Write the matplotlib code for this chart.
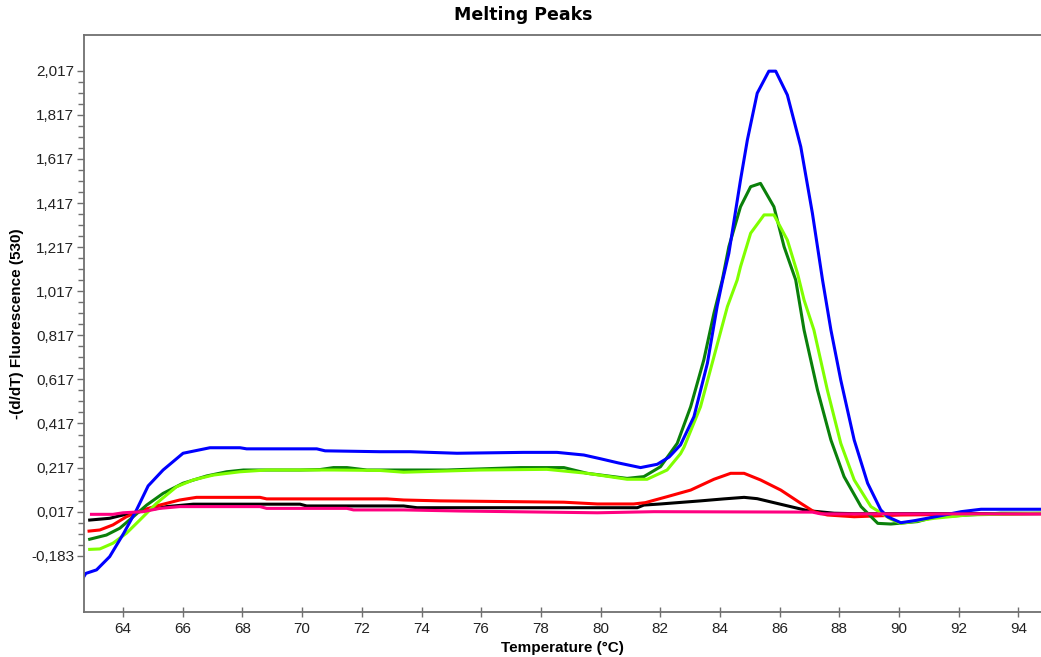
#
# plot.py
# melting peak curves, -(d/dT) fluorescence vs temperature
#
import numpy as np
import matplotlib
matplotlib.use("Agg")
import matplotlib.pyplot as plt
from matplotlib.ticker import FixedLocator, FuncFormatter

# sample curves (temperature in C, -(d/dT) value)
blue_t = [62.68, 62.75, 63.11, 63.55, 64.02, 64.45, 64.84, 65.34, 66.01, 66.91, 67.92, 68.14,
          70.49, 70.77, 72.6, 73.62, 75.19, 77.42, 78.54, 79.44, 80.0, 80.6, 81.34, 81.9,
          82.3, 82.68, 83.13, 83.58, 83.91, 84.08, 84.3, 84.69, 84.92, 85.25, 85.64, 85.87,
          86.26, 86.71, 87.10, 87.44, 87.72, 88.05, 88.5, 88.95, 89.39, 89.62, 90.06, 90.51,
          91.3, 92.08, 92.75, 94.8]
blue_y = [-0.279, -0.263, -0.247, -0.187, -0.081, 0.025, 0.134, 0.206, 0.282, 0.307, 0.307, 0.302,
          0.302, 0.293, 0.289, 0.289, 0.282, 0.286, 0.286, 0.274, 0.257, 0.238, 0.217, 0.232,
          0.265, 0.32, 0.448, 0.690, 0.95, 1.06, 1.189, 1.521, 1.703, 1.915, 2.015, 2.015,
          1.907, 1.672, 1.370, 1.067, 0.841, 0.614, 0.342, 0.146, 0.025, -0.006, -0.033, -0.024,
          -0.004, 0.017, 0.028, 0.028]

dgreen_t = [62.88, 63.44, 63.89, 64.34, 64.79, 65.34, 66.01, 66.8, 67.47, 68.03, 69.93, 70.6,
            71.05, 71.5, 72.17, 74.85, 77.31, 78.77, 79.55, 80.89, 81.45, 82.01, 82.57, 83.02,
            83.46, 83.80, 84.08, 84.3, 84.69, 85.03, 85.36, 85.81, 86.15, 86.54, 86.82, 87.27,
            87.72, 88.16, 88.73, 89.29, 89.73, 90.62, 91.18, 92.3, 93.42, 94.8]
dgreen_y = [-0.108, -0.089, -0.058, -0.006, 0.047, 0.100, 0.146, 0.179, 0.198, 0.206, 0.206, 0.208,
            0.217, 0.217, 0.206, 0.206, 0.217, 0.217, 0.191, 0.168, 0.176, 0.221, 0.327, 0.493,
            0.705, 0.917, 1.068, 1.219, 1.400, 1.491, 1.506, 1.400, 1.219, 1.068, 0.841, 0.569,
            0.342, 0.176, 0.040, -0.036, -0.039, -0.028, -0.008, 0.002, 0.010, 0.010]

lgreen_t = [62.88, 63.22, 63.66, 64.11, 64.56, 65.12, 65.79, 66.35, 67.02, 67.92, 68.81, 71.05,
            72.6, 73.4, 75.97, 78.2, 79.55, 80.89, 81.56, 82.23, 82.68, 82.8, 83.35, 83.8,
            84.25, 84.58, 84.69, 85.03, 85.48, 85.81, 86.26, 86.6, 86.82, 87.15, 87.6, 88.05,
            88.5, 89.06, 89.73, 90.06, 91.18, 92.3, 94.8]
lgreen_y = [-0.154, -0.152, -0.126, -0.081, -0.021, 0.055, 0.130, 0.161, 0.183, 0.198, 0.206, 0.206,
            0.204, 0.196, 0.206, 0.209, 0.191, 0.164, 0.164, 0.206, 0.28, 0.31, 0.493, 0.720,
            0.947, 1.068, 1.128, 1.280, 1.363, 1.363, 1.249, 1.098, 0.977, 0.841, 0.569, 0.327,
            0.161, 0.040, -0.017, -0.036, -0.013, 0.002, 0.010]

red_t = [62.86, 63.22, 63.66, 64.11, 64.67, 65.23, 65.9, 66.46, 68.59, 68.81, 72.84, 73.4,
         74.63, 78.77, 79.89, 81.11, 81.5, 82.23, 83.02, 83.80, 84.36, 84.81, 85.36, 86.04,
         86.71, 87.15, 87.6, 88.5, 90.06, 94.8]
red_y = [-0.071, -0.066, -0.043, -0.006, 0.025, 0.047, 0.070, 0.082, 0.082, 0.075, 0.075, 0.070,
         0.066, 0.060, 0.052, 0.052, 0.058, 0.085, 0.115, 0.164, 0.191, 0.191, 0.161, 0.115,
         0.055, 0.017, 0.002, -0.006, 0.002, 0.008]

black_t = [62.88, 63.55, 64.0, 64.56, 65.46, 66.35, 69.93, 70.15, 73.4, 73.85, 81.23, 81.45,
           82.01, 83.35, 84.13, 84.81, 85.25, 86.15, 86.93, 87.83, 88.5, 94.8]
black_y = [-0.021, -0.013, 0.002, 0.017, 0.040, 0.051, 0.051, 0.043, 0.043, 0.035, 0.035, 0.047,
           0.052, 0.066, 0.075, 0.082, 0.076, 0.047, 0.022, 0.010, 0.008, 0.008]

pink_t = [62.94, 63.66, 64.0, 64.67, 65.23, 65.9, 68.59, 68.81, 71.5, 71.72, 73.4, 75.3,
          79.89, 81.79, 87.1, 87.38, 94.8]
pink_y = [0.005, 0.005, 0.012, 0.017, 0.032, 0.040, 0.040, 0.032, 0.032, 0.025, 0.025, 0.020,
          0.012, 0.017, 0.015, 0.007, 0.007]

x_ticks = list(range(64, 95, 2))
y_ticks = [round(-0.183 + 0.2 * i, 3) for i in range(12)]
y_minor = [round(-0.183 + 0.05 * i, 3) for i in range(45)]

plt.rcParams['font.family'] = ['Liberation Sans', 'DejaVu Sans']

fig = plt.figure(figsize=(10.41, 6.57), dpi=100)
ax = fig.add_axes([84 / 1041, 1 - 612 / 657, 1 - 84 / 1041, (612 - 35) / 657])

# draw order: pink ends up on top like the original
lw = 2.2
ax.plot(black_t, black_y, color='black', lw=lw)
ax.plot(red_t, red_y, color='#ff0000', lw=lw)
ax.plot(dgreen_t, dgreen_y, color='#0a800a', lw=lw)
ax.plot(lgreen_t, lgreen_y, color='#80ff00', lw=lw)
ax.plot(blue_t, blue_y, color='#0000ff', lw=lw)
ax.plot(pink_t, pink_y, color='#ff0080', lw=lw)

ax.set_xlim(62.69, 94.76)
ax.set_ylim(-0.438, 2.179)

spine_col = '#707070'
for side in ['left', 'bottom', 'top']:
    ax.spines[side].set_color(spine_col)
    ax.spines[side].set_linewidth(1.3)
ax.spines['right'].set_visible(False)

ax.xaxis.set_major_locator(FixedLocator(x_ticks))
ax.yaxis.set_major_locator(FixedLocator(y_ticks))
ax.yaxis.set_minor_locator(FixedLocator(y_minor))
ax.yaxis.set_major_formatter(FuncFormatter(lambda v, p: f"{v:.3f}".replace('.', ',')))

ax.tick_params(axis='x', direction='inout', length=7, width=1, color=spine_col,
               labelsize=11, pad=4, labelcolor='#222222')
ax.tick_params(axis='y', which='major', direction='out', length=5, width=1, color=spine_col,
               labelsize=11, pad=2, labelcolor='#222222')
ax.tick_params(axis='y', which='minor', direction='out', length=4, width=1, color=spine_col)

# title sits centred on the whole figure, not on the axes
fig.text(523 / 1041, 1 - 15 / 657, 'Melting Peaks', fontsize=12.5, fontweight='bold',
         family='DejaVu Sans', ha='center', va='center')
ax.set_xlabel('Temperature (°C)', fontsize=11, fontweight='bold', labelpad=3)
ax.set_ylabel('-(d/dT) Fluorescence (530)', fontsize=11, fontweight='bold', labelpad=5)

fig.savefig('out.png', dpi=100)
